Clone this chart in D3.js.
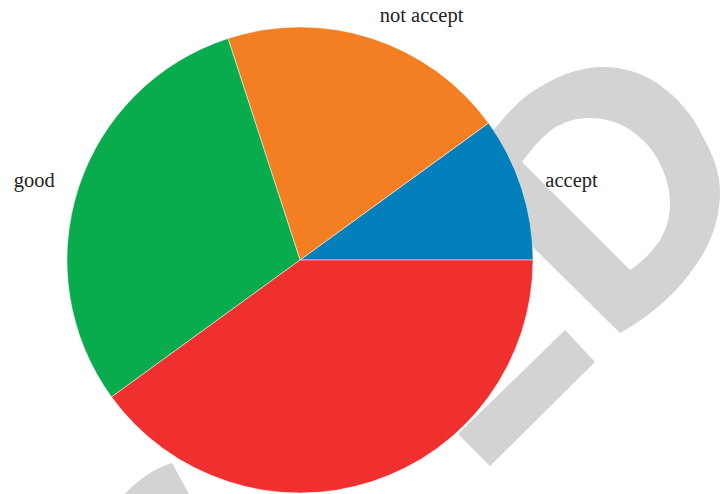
<!DOCTYPE html>
<html>
<head>
<meta charset="utf-8">
<script src="https://cdn.jsdelivr.net/npm/d3@7"></script>
<style>
  html, body { margin: 0; padding: 0; background: #fff; }
  svg { display: block; }
</style>
</head>
<body>
<svg id="chart" width="726" height="494"></svg>
<script>
// Data
const categories = ["accept", "not accept", "good", "very good"];
const values = [10, 20, 30, 40];
const colors = ["#037fbb", "#f47f22", "#08ac4c", "#f02f2f"];

const W = 726, H = 494;
const cx = 300, cy = 260, R = 233, labelR = 258;

const svg = d3.select("#chart");

// Background watermark decoration (not data)
const wm = svg.append("g").attr("fill", "#d3d3d3");
wm.append("path").attr("fill-rule", "evenodd").attr("d",
  "M 460 160 L 495 128 C 512 108 525 95 540 87 C 563 73 583 67 603 67 C 623 67 642 73 657 83 " +
  "C 677 97 692 114 702 135 C 713 155 720 172 720 192 C 720 212 715 230 707 247 " +
  "C 697 265 686 280 673 293 C 657 309 640 322 620 333 L 470 185 Z " +
  "M 522 162 C 531 150 540 139 550 131 C 562 122 575 118 589 118 C 603 118 615 121 627 128 " +
  "C 640 136 650 146 657 158 C 665 172 670 188 670 203 C 670 218 666 230 660 240 " +
  "C 652 252 642 262 630 270 Z");
wm.append("path").attr("d", "M 565 330 L 595 362 L 490 466 L 458 434 Z");
wm.append("path").attr("d", "M 115 505 Q 142 472 172 463 L 195 505 Z");

// Pie
const pie = d3.pie().sort(null).value(d => d)
  .startAngle(Math.PI / 2).endAngle(Math.PI / 2 - 2 * Math.PI);
const arcs = pie(values);
const arc = d3.arc().innerRadius(0).outerRadius(R);
const labelArc = d3.arc().innerRadius(labelR).outerRadius(labelR);

const g = svg.append("g").attr("transform", `translate(${cx},${cy})`);
g.selectAll("path.slice").data(arcs).join("path")
  .attr("class", "slice")
  .attr("d", arc)
  .attr("fill", (d, i) => colors[i])
  .attr("stroke", "#fff")
  .attr("stroke-width", 0.5);

// Labels: only those whose position lies within the visible frame
const visible = arcs.map((d, i) => ({ d, name: categories[i], c: labelArc.centroid(d) }))
  .filter(o => cy + o.c[1] < H - 10);

g.selectAll("text").data(visible).join("text")
  .attr("transform", o => `translate(${o.c})`)
  .attr("dy", "0.35em")
  .attr("text-anchor", o => o.c[0] >= 0 ? "start" : "end")
  .attr("font-family", "'Liberation Serif', 'DejaVu Serif', serif")
  .attr("font-size", 20.5)
  .attr("fill", "#222")
  .text(o => o.name);
</script>
</body>
</html>
